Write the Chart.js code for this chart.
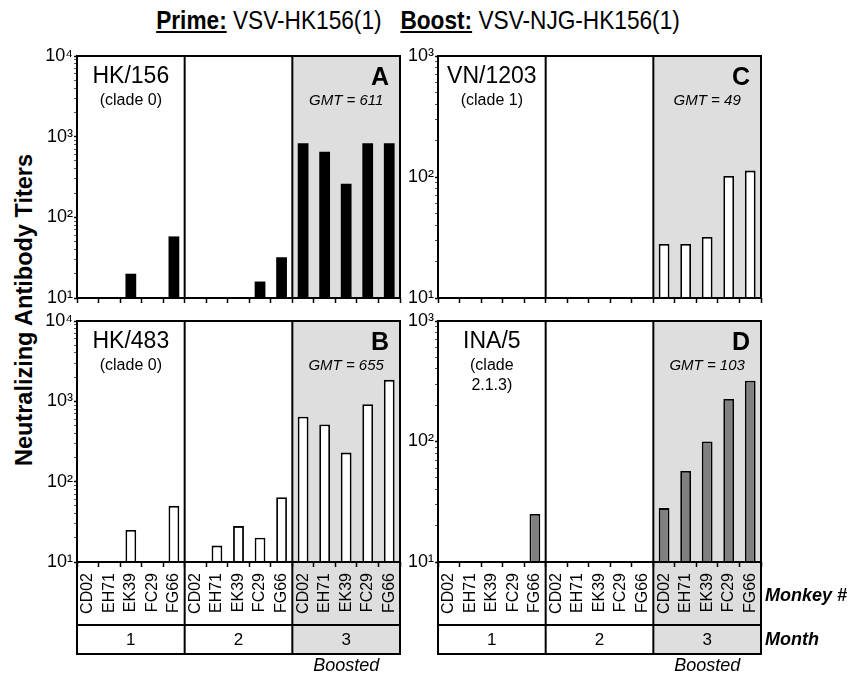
<!DOCTYPE html>
<html>
<head>
<meta charset="utf-8">
<script src="https://cdn.jsdelivr.net/npm/chart.js@4.4.1/dist/chart.umd.min.js"></script>
<style>
  html, body { margin: 0; padding: 0; background: #fff; }
  body { width: 848px; height: 674px; position: relative; overflow: hidden; font-family: "Liberation Sans", Arial, sans-serif; color: #000; }
  canvas { position: absolute; left: 0; top: 0; }
  #title { position: absolute; left: 0; top: 8px; width: 836px; text-align: center; font-size: 25px; line-height: 25px; white-space: pre; transform: scaleX(0.906); transform-origin: 418px 50%; }
  #title u { text-decoration-thickness: 2px; text-underline-offset: 2px; }
  #ytitle { position: absolute; left: -176px; top: 298px; width: 400px; height: 24px; line-height: 24px; text-align: center; font-weight: bold; font-size: 23.5px; transform: rotate(-90deg); white-space: nowrap; }
</style>
</head>
<body>
<div id="title"><b><u>Prime:</u></b> VSV-HK156(1)   <b><u>Boost:</u></b> VSV-NJG-HK156(1)</div>
<div id="ytitle">Neutralizing Antibody Titers</div>
<canvas id="chartA" width="848" height="674"></canvas>
<canvas id="chartC" width="848" height="674"></canvas>
<canvas id="chartB" width="848" height="674"></canvas>
<canvas id="chartD" width="848" height="674"></canvas>
<script>
// monkeys, repeated for each month
const monkeys = ['CD02', 'EH71', 'EK39', 'FC29', 'FG66',
                 'CD02', 'EH71', 'EK39', 'FC29', 'FG66',
                 'CD02', 'EH71', 'EK39', 'FC29', 'FG66'];
const months = ['1', '2', '3'];

// titers (null = below detection, no bar)
const hk156  = [null, null, 20, null, 58,   null, null, null, 16, 32,   830, 650, 260, 830, 830];
const hk483  = [null, null, 25, null, 50,   null, 16, 28, 20, 64,       645, 515, 230, 920, 1850];
const vn1203 = [null, null, null, null, null, null, null, null, null, null, 28, 28, 32, 102, 113];
const ina5   = [null, null, null, null, 25,   null, null, null, null, null, 28, 57, 100, 225, 320];

const FONT = '"Liberation Sans", Arial, sans-serif';
const sup = { 1: '\u00b9', 2: '\u00b2', 3: '\u00b3', 4: '\u2074' };
const ROW_H = 29;

function isPow10(v) {
    const e = Math.round(Math.log10(v));
    return Math.abs(v - Math.pow(10, e)) < 1e-6;
}

const panels = [
    { id: 'chartA', values: hk156, yMax: 10000, fill: '#000000', border: 0, area: [77, 56, 400, 298], bottom: false,
      name: 'HK/156', clade: ['(clade 0)'], letter: 'A', gmt: 'GMT = 611' },
    { id: 'chartC', values: vn1203, yMax: 1000, fill: '#ffffff', border: 1.8, area: [438, 56, 761, 298], bottom: false,
      name: 'VN/1203', clade: ['(clade 1)'], letter: 'C', gmt: 'GMT = 49' },
    { id: 'chartB', values: hk483, yMax: 10000, fill: '#ffffff', border: 1.8, area: [77, 321, 400, 562], bottom: true,
      name: 'HK/483', clade: ['(clade 0)'], letter: 'B', gmt: 'GMT = 655' },
    { id: 'chartD', values: ina5, yMax: 1000, fill: '#808080', border: 1.8, area: [438, 321, 761, 562], bottom: true,
      name: 'INA/5', clade: ['(clade', '2.1.3)'], letter: 'D', gmt: 'GMT = 103', side: true }
];

function panelPlugin(p) {
    return {
        id: 'panel',
        beforeDraw(chart) {
            const { ctx, chartArea: a, scales: { x } } = chart;
            const x0 = (x.getPixelForValue(9) + x.getPixelForValue(10)) / 2;
            const bottom = p.bottom ? x.bottom + ROW_H : a.bottom;
            ctx.save();
            ctx.fillStyle = '#dedede';
            ctx.fillRect(x0, a.top, a.right - x0, bottom - a.top);
            ctx.restore();
        },
        afterDraw(chart) {
            const { ctx, chartArea: a, scales: { x } } = chart;
            const bottom = p.bottom ? x.bottom + ROW_H : a.bottom;
            ctx.save();
            ctx.strokeStyle = '#000';
            ctx.lineWidth = 2;
            ctx.strokeRect(a.left, a.top, a.right - a.left, bottom - a.top);
            ctx.beginPath();
            ctx.moveTo(a.left, a.bottom); ctx.lineTo(a.right, a.bottom);
            if (p.bottom) { ctx.moveTo(a.left, x.bottom); ctx.lineTo(a.right, x.bottom); }
            [4, 9].forEach(i => {
                const xd = (x.getPixelForValue(i) + x.getPixelForValue(i + 1)) / 2;
                ctx.moveTo(xd, a.top); ctx.lineTo(xd, bottom);
            });
            ctx.stroke();

            ctx.fillStyle = '#000';
            ctx.textBaseline = 'middle';
            ctx.textAlign = 'center';
            const c1 = x.getPixelForValue(2);
            ctx.font = '23px ' + FONT;
            ctx.fillText(p.name, c1, a.top + 21);
            ctx.font = '16px ' + FONT;
            p.clade.forEach((t, i) => ctx.fillText(t, c1, a.top + 45 + i * 20));
            ctx.font = 'italic 15px ' + FONT;
            ctx.fillText(p.gmt, x.getPixelForValue(12), a.top + 45);
            ctx.font = 'bold 25px ' + FONT;
            ctx.textAlign = 'right';
            ctx.fillText(p.letter, a.right - 11, a.top + 22);

            if (p.bottom) {
                ctx.textAlign = 'center';
                ctx.font = '17px ' + FONT;
                months.forEach((m, i) => ctx.fillText(m, x.getPixelForValue(i * 5 + 2), x.bottom + ROW_H / 2 + 1));
                ctx.font = 'italic 18px ' + FONT;
                ctx.fillText('Boosted', x.getPixelForValue(12), bottom + 12);
                if (p.side) {
                    ctx.textAlign = 'left';
                    ctx.font = 'italic bold 18px ' + FONT;
                    ctx.fillText('Monkey #', a.right + 4, (a.bottom + x.bottom) / 2 + 3);
                    ctx.fillText('Month', a.right + 4, x.bottom + ROW_H / 2 + 1);
                }
            }
            ctx.restore();
        }
    };
}

function makePanel(p) {
    const xh = p.bottom ? 63 : 10;
    const ctx = document.getElementById(p.id).getContext('2d');
    return new Chart(ctx, {
        type: 'bar',
        data: {
            labels: monkeys,
            datasets: [{
                data: p.values,
                backgroundColor: p.fill,
                borderColor: '#000',
                borderWidth: p.border,
                barPercentage: 0.5,
                categoryPercentage: 1
            }]
        },
        options: {
            responsive: false,
            animation: false,
            devicePixelRatio: 1,
            layout: { padding: { left: p.area[0] - 40, top: p.area[1], right: 848 - p.area[2], bottom: 674 - p.area[3] - xh } },
            plugins: { legend: { display: false }, tooltip: { enabled: false } },
            scales: {
                x: {
                    grid: { offset: true, drawOnChartArea: false, tickLength: 5, tickColor: '#000', tickWidth: 1.5 },
                    border: { display: false },
                    ticks: { display: p.bottom, autoSkip: false, minRotation: 90, maxRotation: 90, padding: 6, color: '#000', font: { family: FONT, size: 16 } },
                    afterFit: s => { s.height = xh; }
                },
                y: {
                    type: 'logarithmic',
                    min: 10,
                    max: p.yMax,
                    afterBuildTicks: s => {
                        const list = [];
                        for (let e = 1; Math.pow(10, e) < p.yMax; e++) {
                            for (let m = 1; m <= 9; m++) list.push(m * Math.pow(10, e));
                        }
                        list.push(p.yMax);
                        s.ticks = list.map(v => ({ value: v, major: isPow10(v) }));
                    },
                    afterFit: s => { s.width = 40; },
                    grid: {
                        drawOnChartArea: false,
                        tickLength: 3,
                        tickColor: c => (c.tick && isPow10(c.tick.value)) ? '#000' : '#555',
                        tickWidth: c => (c.tick && isPow10(c.tick.value)) ? 1.5 : 1
                    },
                    border: { display: false },
                    ticks: {
                        autoSkip: false,
                        padding: 1,
                        color: '#000',
                        font: { family: FONT, size: 18 },
                        callback: v => isPow10(v) ? '10' + sup[Math.round(Math.log10(v))] : ''
                    }
                }
            }
        },
        plugins: [panelPlugin(p)]
    });
}

panels.forEach(makePanel);
</script>
</body>
</html>
